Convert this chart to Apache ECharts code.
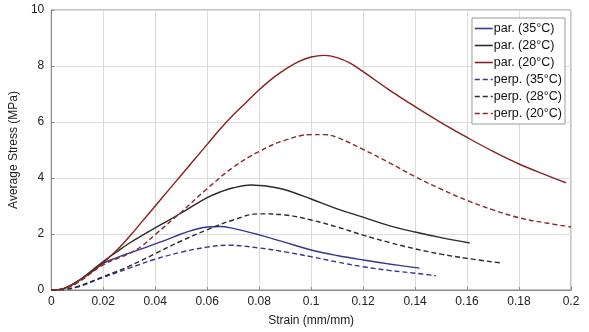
<!DOCTYPE html>
<html>
<head>
<meta charset="utf-8">
<script src="https://cdn.jsdelivr.net/npm/echarts@6/dist/echarts.min.js"></script>
<style>
  html, body { margin: 0; padding: 0; background: #fff; }
  #graph { width: 589px; height: 332px; }
</style>
</head>
<body>
<div id="graph"></div>
<script>
// strain (mm/mm) / average stress (MPa)
const par35x  = [0, 0.005, 0.01, 0.015, 0.02, 0.025, 0.03, 0.035, 0.04, 0.045, 0.05, 0.055, 0.06, 0.065, 0.07, 0.08, 0.09, 0.1, 0.11, 0.12, 0.13, 0.1417];
const par35y  = [0, 0.06, 0.3, 0.62, 0.95, 1.15, 1.32, 1.48, 1.65, 1.82, 2.0, 2.15, 2.25, 2.27, 2.2, 1.97, 1.7, 1.43, 1.23, 1.07, 0.93, 0.78];

const par28x  = [0, 0.005, 0.01, 0.015, 0.02, 0.025, 0.03, 0.035, 0.04, 0.045, 0.05, 0.055, 0.06, 0.065, 0.07, 0.077, 0.085, 0.09, 0.1, 0.11, 0.12, 0.13, 0.14, 0.15, 0.161];
const par28y  = [0, 0.06, 0.3, 0.65, 1.02, 1.35, 1.67, 1.95, 2.22, 2.48, 2.75, 3.03, 3.3, 3.5, 3.65, 3.75, 3.68, 3.58, 3.25, 2.9, 2.6, 2.3, 2.07, 1.87, 1.68];

const par20x  = [0, 0.005, 0.01, 0.015, 0.02, 0.025, 0.03, 0.035, 0.04, 0.045, 0.05, 0.055, 0.06, 0.065, 0.07, 0.075, 0.08, 0.085, 0.09, 0.095, 0.1, 0.105, 0.11, 0.115, 0.12, 0.13, 0.14, 0.15, 0.16, 0.17, 0.18, 0.19, 0.198];
const par20y  = [0, 0.06, 0.3, 0.6, 0.98, 1.4, 1.9, 2.45, 3.0, 3.55, 4.1, 4.65, 5.2, 5.75, 6.25, 6.7, 7.15, 7.55, 7.88, 8.15, 8.32, 8.38, 8.3, 8.1, 7.8, 7.15, 6.55, 5.98, 5.45, 4.95, 4.5, 4.12, 3.83];

const perp35x = [0, 0.005, 0.01, 0.02, 0.03, 0.04, 0.05, 0.06, 0.068, 0.08, 0.09, 0.1, 0.11, 0.12, 0.13, 0.14, 0.148];
const perp35y = [0, 0.02, 0.1, 0.45, 0.78, 1.1, 1.35, 1.53, 1.6, 1.5, 1.36, 1.19, 1.0, 0.83, 0.7, 0.6, 0.51];

const perp28x = [0, 0.005, 0.01, 0.02, 0.03, 0.04, 0.05, 0.06, 0.07, 0.08, 0.09, 0.1, 0.11, 0.12, 0.13, 0.14, 0.15, 0.16, 0.1735];
const perp28y = [0, 0.02, 0.12, 0.48, 0.85, 1.3, 1.75, 2.15, 2.5, 2.72, 2.68, 2.5, 2.25, 1.96, 1.7, 1.47, 1.28, 1.13, 0.96];

const perp20x = [0, 0.005, 0.01, 0.02, 0.03, 0.035, 0.04, 0.05, 0.06, 0.07, 0.08, 0.09, 0.1, 0.105, 0.11, 0.12, 0.13, 0.14, 0.15, 0.16, 0.17, 0.18, 0.19, 0.2];
const perp20y = [0, 0.05, 0.25, 0.9, 1.3, 1.58, 1.98, 2.78, 3.62, 4.38, 4.95, 5.35, 5.55, 5.55, 5.45, 5.02, 4.55, 4.05, 3.6, 3.2, 2.86, 2.58, 2.4, 2.25];

const names = ['par. (35°C)', 'par. (28°C)', 'par. (20°C)', 'perp. (35°C)', 'perp. (28°C)', 'perp. (20°C)'];

function pairs(xs, ys){
    return xs.map((x, i) => [x, ys[i]]);
}

const lines = [
    {x: par35x,  y: par35y,  color: '#33388a', type: 'solid'},
    {x: par28x,  y: par28y,  color: '#2b2b2e', type: 'solid'},
    {x: par20x,  y: par20y,  color: '#8a1f1f', type: 'solid'},
    {x: perp35x, y: perp35y, color: '#33388a', type: [5, 3]},
    {x: perp28x, y: perp28y, color: '#2b2b2e', type: [5, 3]},
    {x: perp20x, y: perp20y, color: '#8a2a2a', type: [5, 3]}
];

let myChart = echarts.init(document.getElementById('graph'));

let series = lines.map((l, i) => ({
    name: names[i],
    type: 'line',
    data: pairs(l.x, l.y),
    smooth: 0.4,
    symbol: 'none',
    itemStyle: {color: l.color},
    lineStyle: {color: l.color, width: 1.4, type: l.type}
}));

const axisLabelStyle = {color: '#222', fontFamily: 'Liberation Sans, Arial', fontSize: 12};

let option = {
    animation: false,
    backgroundColor: '#fff',
    grid: {left: 51, right: 18, top: 10, bottom: 42, show: true, borderColor: '#8a8a8a', borderWidth: 1},
    legend: {
        data: names,
        orient: 'vertical',
        right: 24,
        top: 18,
        itemWidth: 18,
        itemHeight: 10,
        itemGap: 4,
        padding: [4, 3, 4, 2],
        backgroundColor: '#fff',
        borderColor: '#999',
        borderWidth: 1,
        borderRadius: 0,
        itemStyle: {opacity: 0},
        lineStyle: {width: 1.6},
        textStyle: {color: '#111', fontFamily: 'Liberation Sans, Arial', fontSize: 12.5, padding: [0, 0, 0, -4]}
    },
    xAxis: {
        type: 'value',
        min: 0, max: 0.2, interval: 0.02,
        name: 'Strain (mm/mm)',
        nameLocation: 'middle',
        nameGap: 25,
        nameTextStyle: {color: '#222', fontFamily: 'Liberation Sans, Arial', fontSize: 12},
        axisLine: {show: true, lineStyle: {color: '#8a8a8a'}},
        axisTick: {show: true, inside: true, length: 3, lineStyle: {color: '#8a8a8a'}},
        axisLabel: Object.assign({margin: 6}, axisLabelStyle),
        splitLine: {show: true, lineStyle: {color: '#dcdcdc'}}
    },
    yAxis: {
        type: 'value',
        min: 0, max: 10, interval: 2,
        name: 'Average Stress (MPa)',
        nameLocation: 'middle',
        nameGap: 28,
        nameTextStyle: {color: '#222', fontFamily: 'Liberation Sans, Arial', fontSize: 12},
        axisLine: {show: true, lineStyle: {color: '#8a8a8a'}},
        axisTick: {show: true, inside: true, length: 3, lineStyle: {color: '#8a8a8a'}},
        axisLabel: Object.assign({margin: 7}, axisLabelStyle),
        splitLine: {show: true, lineStyle: {color: '#dcdcdc'}}
    },
    series: series
};
myChart.setOption(option);
</script>
</body>
</html>
